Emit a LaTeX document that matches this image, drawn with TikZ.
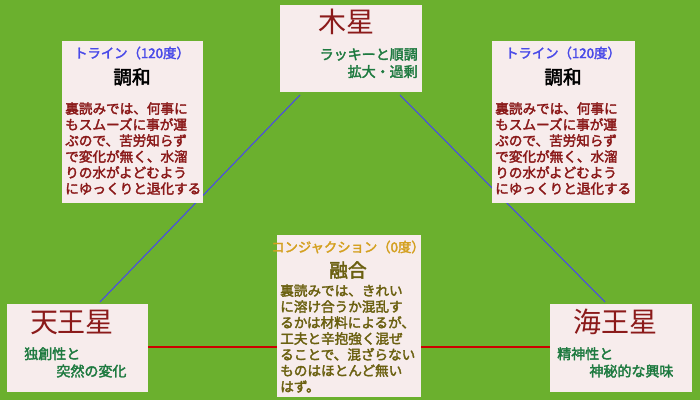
\documentclass[tikz,border=0pt]{standalone}
\usepackage{fontspec}
\setmainfont{Noto Sans CJK JP}
\newfontfamily\bcjk{Noto Sans CJK JP}[FakeBold=2.5]
\definecolor{bg}{HTML}{6BB02E}
\definecolor{boxc}{HTML}{F7ECEC}
\definecolor{dred}{HTML}{8B1A1A}
\definecolor{dgreen}{HTML}{1E7A40}
\definecolor{gold}{HTML}{D4A020}
\definecolor{olive}{HTML}{6B6010}
\definecolor{bl}{HTML}{4A4AE8}
\begin{document}
\begin{tikzpicture}[x=0.75pt,y=-0.75pt,
 card/.style={fill=boxc,draw=none},
 body/.style={font=\bcjk\fontsize{10.2}{12}\selectfont,align=left,anchor=north west,inner sep=0},
 big/.style={font=\fontsize{21}{23}\selectfont,text=dred,inner sep=0},
 sub/.style={font=\bcjk\fontsize{10.5}{13}\selectfont,text=dgreen,align=left,inner sep=0,anchor=north west},
 hd/.style={font=\bcjk\fontsize{10}{12}\selectfont,inner sep=0},
 tt/.style={font=\bcjk\fontsize{14}{16}\selectfont,inner sep=0}]
\fill[bg] (0,0) rectangle (700,400);
\coordinate (j1) at (300,95); \coordinate (u1) at (100,302);
\coordinate (j2) at (400,95); \coordinate (n1) at (605,302);
\coordinate (u2) at (148,347); \coordinate (n2) at (550,347);
\draw[bl,thick] (j1) -- (u1);
\draw[bl,thick] (j2) -- (n1);
\draw[red!80!black,thick] (u2) -- (n2);
% Jupiter
\fill[card] (280,5) rectangle (422,92);
\node[big] (jt) at (346,22) {木星};
\node[sub,align=right,anchor=north east] (js) at (418,48) {ラッキーと順調\\拡大・過剰};
% left trine
\fill[card] (62,41) rectangle (203,203);
\node[hd,text=bl] (lh) at (132,53) {トライン（120度）};
\node[tt] (lt) at (132,77) {調和};
\node[body,text=dred] (lb) at (65,102) {裏読みでは、何事に\\もスムーズに事が運\\ぶので、苦労知らず\\で変化が無く、水溜\\りの水がよどむよう\\にゆっくりと退化する};
% right trine
\fill[card] (492,41) rectangle (635,203);
\node[hd,text=bl] (rh) at (563,53) {トライン（120度）};
\node[tt] (rt) at (563,77) {調和};
\node[body,text=dred] (rb) at (495,102) {裏読みでは、何事に\\もスムーズに事が運\\ぶので、苦労知らず\\で変化が無く、水溜\\りの水がよどむよう\\にゆっくりと退化する};
% conj
\fill[card] (277,235) rectangle (421,397);
\node[hd,text=gold] (ch) at (348,247) {コンジャクション（0度）};
\node[tt,text=olive] (ct) at (348,270) {融合};
\node[body,text=olive] (cb) at (280,284) {裏読みでは、きれい\\に溶け合うか混乱す\\るかは材料によるが、\\工夫と辛抱強く混ぜ\\ることで、混ざらない\\ものはほとんど無い\\はず。};
% Uranus
\fill[card] (7,304) rectangle (148,392);
\node[big] (ut) at (72,322) {天王星};
\node[sub] (us) at (24,347) {独創性と\\\hspace*{2.3em}突然の変化};
% Neptune
\fill[card] (550,304) rectangle (692,392);
\node[big] (nt) at (615,322) {海王星};
\node[sub] (ns) at (557,347) {精神性と\\\hspace*{2.3em}神秘的な興味};
\end{tikzpicture}
\end{document}
